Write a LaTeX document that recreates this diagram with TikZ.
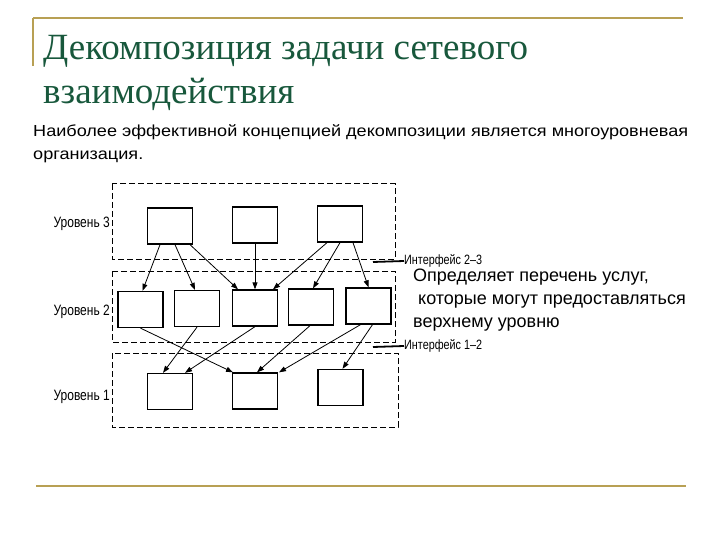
\documentclass[tikz,border=0pt]{standalone}
\usepackage{fontspec}
\setmainfont{Liberation Sans}
\newfontfamily\titlefont{Liberation Serif}
\newfontfamily\widefont[FakeStretch=1.13]{Liberation Sans}
\newfontfamily\narrowfont[FakeStretch=0.8]{Liberation Sans}
\usetikzlibrary{arrows.meta}
\definecolor{gold}{RGB}{184,160,84}
\definecolor{titlegreen}{RGB}{24,88,60}
\begin{document}
\begin{tikzpicture}[x=1pt,y=-1pt,
  box/.style={draw=black,line width=1.3pt,minimum width=45pt,minimum height=36pt,inner sep=0pt},
  region/.style={draw=black,dashed,line width=1pt,dash pattern=on 6pt off 3pt},
  arr/.style={draw=black,line width=0.8pt,-{Triangle[length=7pt,width=5pt]}},
  lvl/.style={font=\narrowfont\fontsize{15}{17}\selectfont,anchor=east,inner sep=0pt},
  iface/.style={font=\narrowfont\fontsize{13.5}{15}\selectfont,anchor=west,inner sep=0pt},
  body/.style={font=\widefont\fontsize{16}{19}\selectfont,anchor=base west,inner sep=0pt},
  side/.style={font=\fontsize{18}{21}\selectfont,anchor=base west,inner sep=0pt},
  ttl/.style={font=\titlefont\fontsize{37}{44}\selectfont,text=titlegreen,anchor=base west,inner sep=0pt}]
\useasboundingbox (0,0) rectangle (720,540);
% frame lines
\draw[gold,line width=2pt] (33,18) -- (683,18);
\draw[gold,line width=2pt] (33,18) -- (33,66);
\draw[gold,line width=2pt] (36,486) -- (686,486);
% title
\node[ttl] (t1) at (43,60) {Декомпозиция задачи сетевого};
\node[ttl] (t2) at (43,104) {взаимодействия};
% body
\node[body] (b1) at (33,137) {Наиболее эффективной концепцией декомпозиции является многоуровневая};
\node[body] (b2) at (33,160) {организация.};
% regions
\draw[region] (112,184) rectangle (395,259);
\draw[region] (112,271) rectangle (395,342);
\draw[region] (112,353) rectangle (398,427);
% level labels
\node[lvl] (l3) at (110,224) {Уровень 3};
\node[lvl] (l2) at (110,312) {Уровень 2};
\node[lvl] (l1) at (110,397) {Уровень 1};
% interfaces
\coordinate (i23) at (373,262);
\coordinate (i12) at (373,347);
\node[iface] (if23) at (404,261) {Интерфейс 2–3};
\node[iface] (if12) at (404,346) {Интерфейс 1–2};
\draw[line width=1.8pt] (i23) -- (if23.west);
\draw[line width=1.8pt] (i12) -- (if12.west);
% side text
\node[side] (s1) at (413,281) {Определяет перечень услуг,};
\node[side] (s2) at (413,304) {\ которые могут предоставляться};
\node[side] (s3) at (413,327) {верхнему уровню};
% level 3 boxes
\node[box] (a1) at (170,226) {};
\node[box] (a2) at (255,225) {};
\node[box] (a3) at (340,224) {};
% level 2 boxes
\node[box] (b21) at (140.5,309.5) {};
\node[box] (b22) at (197,308.5) {};
\node[box] (b23) at (255,308) {};
\node[box] (b24) at (311,307) {};
\node[box] (b25) at (368.5,306) {};
% level 1 boxes
\node[box] (c1) at (170,391.5) {};
\node[box] (c2) at (255,391) {};
\node[box] (c3) at (340.5,387.5) {};
% arrows 3 -> 2
\draw[arr] ([xshift=-10pt]a1.south) -- ([xshift=2pt]b21.north);
\draw[arr] ([xshift=5pt]a1.south) -- ([xshift=-2pt]b22.north);
\draw[arr] ([xshift=20pt]a1.south) -- ([xshift=-17pt]b23.north);
\draw[arr] (a2.south) -- (b23.north);
\draw[arr] ([xshift=-13pt]a3.south) -- ([xshift=18pt]b23.north);
\draw[arr] (a3.south) -- ([xshift=2pt]b24.north);
\draw[arr] ([xshift=13pt]a3.south) -- (b25.north);
% arrows 2 -> 1
\draw[arr] (b21.south) -- ([xshift=-22pt]c2.north);
\draw[arr] (b22.south) -- ([xshift=-7pt]c1.north);
\draw[arr] (b23.south) -- ([xshift=15pt]c1.north);
\draw[arr] ([xshift=-1pt]b24.south) -- ([xshift=2pt]c2.north);
\draw[arr] ([xshift=-8pt]b25.south) -- ([xshift=24pt]c2.north);
\draw[arr] ([xshift=4pt]b25.south) -- ([xshift=2pt]c3.north);
\end{tikzpicture}
\end{document}
